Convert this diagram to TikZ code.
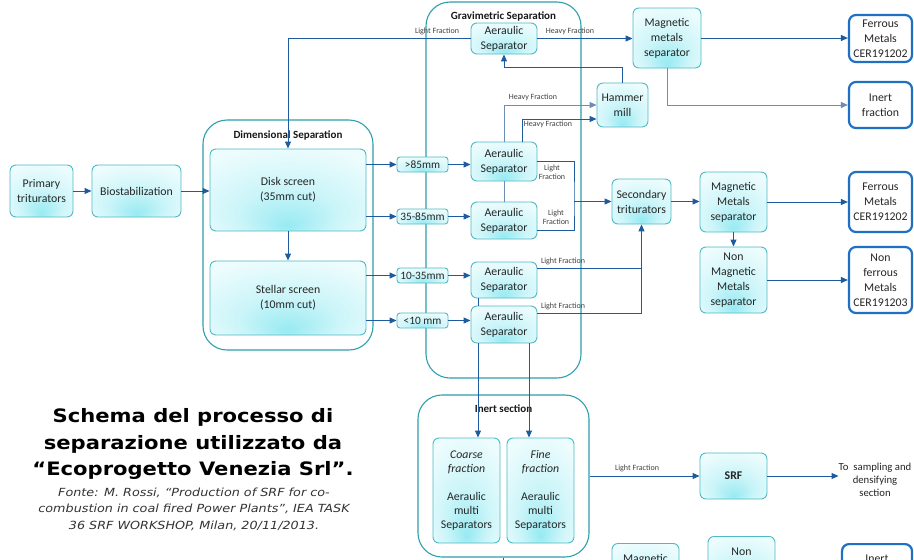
\documentclass[tikz,border=0pt]{standalone}
\usepackage{fontspec}
\setmainfont{Carlito}
\newfontfamily\verd{DejaVu Sans}[FakeStretch=1.14]
\usetikzlibrary{arrows.meta}
\definecolor{cA}{HTML}{98EAF2}
\definecolor{cB}{HTML}{CBF5F9}
\definecolor{cC}{HTML}{EDFCFD}
\definecolor{boxline}{HTML}{4DBAC6}
\definecolor{contline}{HTML}{2E9FAD}
\definecolor{arr}{HTML}{1D5A9E}
\definecolor{arrl}{HTML}{6B8DB8}
\definecolor{outb}{HTML}{1F6FC2}
\pgfdeclareradialshading{boxsh}{\pgfpoint{0bp}{-22bp}}{color(0bp)=(cA); color(16bp)=(cB); color(34bp)=(cC); color(50bp)=(cC)}
\tikzset{
  box/.style={shade, shading=boxsh, draw=boxline, line width=0.9pt, rounded corners=6pt, align=center, inner sep=0pt, text=black!85, font=\fontsize{11.8}{15}\selectfont},
  sbox/.style={box, rounded corners=3pt, font=\fontsize{11.3}{14}\selectfont},
  cont/.style={draw=contline, line width=1.1pt, rounded corners=24pt, inner sep=0pt},
  outbox/.style={draw=outb, line width=2.2pt, rounded corners=7pt, fill=white, align=center, inner sep=0pt, text=black!85, font=\fontsize{11.8}{15}\selectfont},
  conn/.style={draw=arr, line width=1pt, -{Triangle[length=7pt,width=6pt]}},
  connl/.style={draw=arrl, line width=1pt, -{Triangle[length=7pt,width=6pt]}},
  link/.style={draw=arr, line width=1pt},
  linkl/.style={draw=arrl, line width=1pt},
  lbl/.style={font=\fontsize{8}{9.5}\selectfont, text=black!75, inner sep=0pt, align=center},
  ttl/.style={font=\bfseries\fontsize{11}{13}\selectfont, inner sep=0pt, text=black!90}
}
\begin{document}
\begin{tikzpicture}[x=1pt,y=-1pt]
\clip (0,0) rectangle (914,560);
\fill[white] (0,0) rectangle (914,560);

% containers
\node[cont, minimum width=170pt, minimum height=230pt] (dimcont) at (288,235) {};
\node[ttl] (dimttl) at (288,135) {Dimensional Separation};
\node[cont, minimum width=155pt, minimum height=376pt] (gravcont) at (503.5,190) {};
\node[ttl] (gravttl) at (503.5,16) {Gravimetric Separation};
\node[cont, minimum width=171pt, minimum height=162pt] (inertcont) at (503.5,476) {};
\node[ttl] (inertttl) at (503.5,409) {Inert section};

% left chain
\node[box, minimum width=63pt, minimum height=52pt] (prim) at (41.5,191) {Primary\\triturators};
\node[box, minimum width=89pt, minimum height=52pt] (bio) at (136.5,191) {Biostabilization};
\node[box, minimum width=156pt, minimum height=82pt] (disk) at (288,190) {Disk screen\\(35mm cut)};
\node[box, minimum width=156pt, minimum height=74pt] (stellar) at (288,298) {Stellar screen\\(10mm cut)};

% size classes
\node[sbox, minimum width=51pt, minimum height=15pt] (s85) at (422.5,164.5) {>85mm};
\node[sbox, minimum width=51pt, minimum height=15pt] (s3585) at (422.5,216.5) {35-85mm};
\node[sbox, minimum width=51pt, minimum height=15pt] (s1035) at (422.5,275.5) {10-35mm};
\node[sbox, minimum width=51pt, minimum height=15pt] (s10) at (422.5,320.5) {<10 mm};

% aeraulic separators
\node[box, minimum width=66pt, minimum height=31pt] (as0) at (504,38.5) {Aeraulic\\Separator};
\node[box, minimum width=66pt, minimum height=39pt] (as1) at (504,161.5) {Aeraulic\\Separator};
\node[box, minimum width=66pt, minimum height=37pt] (as2) at (504,220.5) {Aeraulic\\Separator};
\node[box, minimum width=66pt, minimum height=36pt] (as3) at (504,280) {Aeraulic\\Separator};
\node[box, minimum width=66pt, minimum height=37pt] (as4) at (504,324.5) {Aeraulic\\Separator};

% right side
\node[box, minimum width=51pt, minimum height=44pt] (hammer) at (622.5,105) {Hammer\\mill};
\node[box, minimum width=68pt, minimum height=60pt] (mms1) at (667,38) {Magnetic\\metals\\separator};
\node[outbox, minimum width=63pt, minimum height=47pt] (fer1) at (880.5,38.5) {Ferrous\\Metals\\CER191202};
\node[outbox, minimum width=63pt, minimum height=46pt] (inert1) at (880.5,105) {Inert\\fraction};
\node[box, minimum width=59pt, minimum height=45pt] (sec) at (641.5,201.5) {Secondary\\triturators};
\node[box, minimum width=67pt, minimum height=60pt] (mms2) at (733.5,202) {Magnetic\\Metals\\separator};
\node[outbox, minimum width=63pt, minimum height=60pt] (fer2) at (880.5,202) {Ferrous\\Metals\\CER191202};
\node[box, minimum width=67pt, minimum height=66pt] (nmms) at (733.5,280) {Non\\Magnetic\\Metals\\separator};
\node[outbox, minimum width=63pt, minimum height=66pt] (nfer) at (880.5,280) {Non\\ferrous\\Metals\\CER191203};

% inert section
\node[box, minimum width=67pt, minimum height=105pt, font=\fontsize{11.8}{14}\selectfont] (coarse) at (466.5,490.5) {\textit{Coarse}\\\textit{fraction}\\[14pt]Aeraulic\\multi\\Separators};
\node[box, minimum width=67pt, minimum height=105pt, font=\fontsize{11.8}{14}\selectfont] (fine) at (540.5,490.5) {\textit{Fine}\\\textit{fraction}\\[14pt]Aeraulic\\multi\\Separators};
\node[box, minimum width=67pt, minimum height=46pt, font=\bfseries\fontsize{11.8}{14}\selectfont] (srf) at (733.5,476) {SRF};
\node[align=center, inner sep=0pt, text=black!85, font=\fontsize{10.7}{13}\selectfont] (samp) at (875,480) {To\ \ sampling and\\densifying\\section};

% bottom partially visible boxes
\node[box, anchor=north, minimum width=67pt, inner ysep=3pt, text height=16pt, text depth=30pt] (magb) at (645.5,543) {Magnetic};
\node[box, anchor=north, minimum width=67pt, inner ysep=3pt, text height=16pt, text depth=30pt] (nonb) at (741.5,536) {Non};
\node[outbox, anchor=north, minimum width=70pt, inner ysep=3pt, text height=15pt, text depth=30pt] (inertb) at (877,543) {Inert};

% connectors: left chain
\draw[conn] (prim.east) -- (bio.west);
\draw[conn] (bio.east) -- (bio.east -| disk.west);
\draw[conn] (disk.south) -- (stellar.north);
\draw[conn] (disk.east |- s85.west) -- (s85.west);
\draw[conn] (disk.east |- s3585.west) -- (s3585.west);
\draw[conn] (stellar.east |- s1035.west) -- (s1035.west);
\draw[conn] (stellar.east |- s10.west) -- (s10.west);
\draw[conn] (s85.east) -- (s85.east -| as1.west);
\draw[conn] (s3585.east) -- (s3585.east -| as2.west);
\draw[conn] (s1035.east) -- (s1035.east -| as3.west);
\draw[conn] (s10.east) -- (s10.east -| as4.west);

% top aeraulic separator
\draw[conn] (as0.west) -| (disk.north);
\node[lbl] (lf0) at (437,31) {Light Fraction};
\draw[conn] (as0.east) -- (as0.east -| mms1.west);
\node[lbl] (hf0) at (570,31) {Heavy Fraction};
\draw[conn] (mms1.east) -- (mms1.east -| fer1.west);
\draw[connl] (mms1.south) |- (inert1.west);
\draw[conn] (hammer.north) -- ++(0,-15) -| (as0.south);

% heavy fractions to hammer mill
\draw[connl] (as1.north) |- (hammer.west);
\node[lbl] (hf1) at (533,97.5) {Heavy Fraction};
\draw[conn] ([xshift=18pt]as1.north) |- ([yshift=-14pt]hammer.west);
\node[lbl] (hf2) at (548,124) {Heavy Fraction};

% links between separators
\draw[linkl] (as1.south) -- (as2.north);
\draw[link] ([xshift=-26pt]as3.south) -- ([xshift=-26pt]as4.north);

% light fractions to secondary triturators
\coordinate (j1) at (574,201.5);
\draw[link] (as1.east) -| (j1) |- ([yshift=-9.5pt]as2.east);
\draw[conn] (j1) -- (sec.west);
\node[lbl] (lf1) at (552,172) {Light\\Fraction};
\node[lbl] (lf2) at (556,217) {Light\\Fraction};
\draw[link] ([yshift=12pt]as3.east) -- ([yshift=12pt]as3.east -| sec.south);
\draw[conn] ([yshift=11.5pt]as4.east) -| (sec.south);
\node[lbl] (lf3) at (563,261) {Light Fraction};
\node[lbl] (lf4) at (563,306) {Light Fraction};

\draw[conn] (sec.east) -- (sec.east -| mms2.west);
\draw[conn] (mms2.east) -- (mms2.east -| fer2.west);
\draw[conn] (mms2.south) -- (nmms.north);
\draw[conn] (nmms.east) -- (nmms.east -| nfer.west);

% to inert section
\draw[conn] ([xshift=-26pt]as4.south) -- ([xshift=-26pt]as4.south |- coarse.north);
\draw[conn] ([xshift=25pt]as4.south) -- ([xshift=25pt]as4.south |- fine.north);
\draw[conn] (inertcont.east) -- (inertcont.east -| srf.west);
\node[lbl] (lf5) at (637,468) {Light Fraction};
\draw[conn] (srf.east) -- (srf.east -| samp.west);
\draw[link] (inertcont.south) -- ++(0,12);

% caption
\node[font=\verd\bfseries\fontsize{18.5}{26.5}\selectfont, align=center, inner sep=0pt] (title) at (193,444) {Schema del processo di\\separazione utilizzato da\\“Ecoprogetto Venezia Srl”.};
\node[font=\verd\itshape\fontsize{11.2}{16.5}\selectfont, align=center, inner sep=0pt, text=black!80] (src) at (194,509) {Fonte: M. Rossi, “Production of SRF for co-\\combustion in coal fired Power Plants”, IEA TASK\\36 SRF WORKSHOP, Milan, 20/11/2013.};
\end{tikzpicture}
\end{document}
